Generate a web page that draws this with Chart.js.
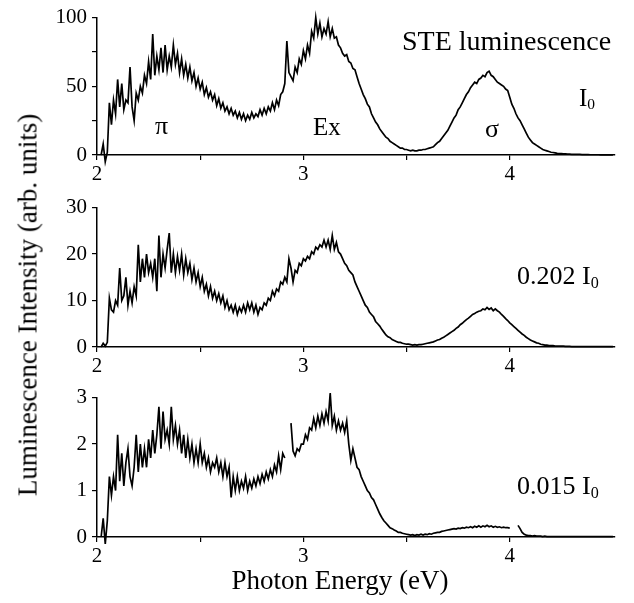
<!DOCTYPE html>
<html>
<head>
<meta charset="utf-8">
<script src="https://cdn.jsdelivr.net/npm/chart.js@4/dist/chart.umd.min.js"></script>
<style>
  body { margin: 0; background: #fff; }
  #wrap { position: relative; width: 634px; height: 603px; font-family: 'Liberation Serif', 'Times New Roman', serif; color: #000; }
  canvas { position: absolute; left: 0; }
  .lbl { position: absolute; white-space: nowrap; line-height: 1; }
  .sub { font-size: 62%; position: relative; top: 0.22em; }
</style>
</head>
<body>
<div id="wrap">
  <canvas id="c1" style="top:0px"></canvas>
  <canvas id="c2" style="top:190px"></canvas>
  <canvas id="c3" style="top:380px"></canvas>

  <div class="lbl" style="left:28px;top:305px;font-size:27px;transform:translate(-50%,-50%) rotate(-90deg);">Luminescence Intensity (arb. units)</div>
  <div class="lbl" style="left:340px;top:567px;font-size:27px;transform:translateX(-50%);">Photon Energy (eV)</div>

  <div class="lbl" style="left:402px;top:27px;font-size:28px;">STE luminescence</div>
  <div class="lbl" style="left:579px;top:85px;font-size:25px;">I<span class="sub">0</span></div>
  <div class="lbl" style="left:155px;top:113px;font-size:26px;">π</div>
  <div class="lbl" style="left:313px;top:114px;font-size:25px;">Ex</div>
  <div class="lbl" style="left:485px;top:116px;font-size:26px;">σ</div>
  <div class="lbl" style="left:517px;top:263px;font-size:26px;">0.202 I<span class="sub">0</span></div>
  <div class="lbl" style="left:517px;top:473px;font-size:26px;">0.015 I<span class="sub">0</span></div>
</div>

<script>
// sampling grid of the spectra (eV)
const E_START = 2.0;
const E_STEP = 0.01;

// x axis ticks (eV), labelled only on whole numbers
const xTicks = [2, 2.5, 3, 3.5, 4];

// full intensity I0
const spectrumI0 = [
  null, null, 0, 8, -5, 2, 38, 22, 40, 30,
  55, 35, 52, 33, 40, 38, 64, 35, 25, 45,
  40, 50, 45, 58, 52, 68, 55, 88, 58, 72,
  62, 78, 60, 80, 62, 72, 64, 80, 66, 74,
  60, 70, 58, 66, 56, 64, 54, 60, 50, 56,
  48, 53, 44, 49, 42, 46, 40, 44, 36, 41,
  34, 38, 32, 35, 30, 34, 29, 32, 27, 31,
  26, 30, 25, 29, 26, 31, 27, 30, 28, 33,
  29, 34, 30, 35, 32, 38, 33, 40, 36, 44,
  46, 52, 83, 60, 57, 54, 64, 60, 70, 66,
  76, 70, 80, 74, 90, 85, 100, 88, 96, 86,
  92, 88, 97, 86, 92, 85, 86, 80, 78, 74,
  72, 73, 68, 67, 63, 62, 57, 52, 48, 44,
  41, 37, 35, 30, 27, 24, 22, 19, 17, 15,
  13, 12, 10, 9, 8, 7, 6, 5, 5, 4,
  4, 3.5, 3, 3.5, 3, 3, 3.5, 3.5, 4, 4,
  4.5, 5, 5.5, 6, 7.5, 9, 10, 12, 14, 16,
  18, 21, 24, 27, 29, 33, 35, 38, 41, 44,
  46, 49, 51, 53, 52, 55, 56, 58, 57, 60,
  61, 58, 57, 55, 53, 52, 51, 50, 48, 47,
  42, 37, 34, 30, 27, 25, 22, 19, 16, 13,
  11, 9, 8, 7, 6, 5, 4, 3.5, 3, 2.5,
  2, 1.8, 1.5, 1.2, 1, 1, 0.8, 0.8, 0.6, 0.6,
  0.5, 0.5, 0.4, 0.4, 0.4, 0.3, 0.3, 0.3, 0.3, 0.2,
  0.2, 0.2, 0.2, 0.2, 0.1, 0.1, 0.1, 0.1, 0.1, 0.1,
  0.1
];

// 0.202 I0
const spectrum202 = [
  null, null, 0, 0.8, 0.2, 1, 10.5, 8, 7.5, 10,
  9, 17, 10, 11, 15, 9, 12, 9.5, 13, 11,
  22, 14, 19, 15, 20, 16, 18, 15, 19, 12,
  24, 15, 20, 17, 21, 24.5, 16, 20, 16, 19.5,
  16.5, 20, 15.5, 19, 16, 18, 14.5, 17, 14, 16,
  13, 15, 12, 13.5, 11, 13, 10.5, 12, 10, 11.5,
  9.5, 11, 8.5, 10, 8, 9, 7.5, 9, 7, 8.5,
  7.5, 9, 7.5, 9.5, 8, 9.5, 7.5, 9, 7, 8.5,
  8, 9.5, 9, 10.5, 10, 12, 11, 12.5, 12, 14,
  13.5, 15, 14, 19, 17, 14, 16.5, 16, 18, 17.5,
  19, 18.5, 19.5, 19, 20.5, 20, 21.5, 21, 22, 21.5,
  23, 21.5, 23, 21, 24, 21, 22.5, 20.5, 20, 19,
  18, 17.5, 16.5, 16, 15.5, 14, 13, 12, 11, 10,
  9, 8.5, 7.5, 7, 6.5, 5.5, 5, 4.5, 3.8, 3.2,
  2.6, 2.2, 2, 1.6, 1.4, 1.2, 1, 1, 0.8, 0.7,
  0.6, 0.6, 0.5, 0.4, 0.5, 0.4, 0.5, 0.5, 0.6, 0.7,
  0.8, 0.9, 1, 1.1, 1.3, 1.5, 1.6, 1.9, 2.1, 2.4,
  2.7, 3, 3.3, 3.6, 4, 4.3, 4.8, 5.1, 5.5, 5.9,
  6.2, 6.6, 7, 7.2, 7.5, 7.7, 7.8, 8.2, 8, 8.5,
  8.1, 8.4, 7.8, 8.2, 7.8, 7.5, 7, 6.6, 6.1, 5.7,
  5.2, 4.8, 4.4, 4, 3.6, 3.2, 2.8, 2.5, 2.1, 1.8,
  1.5, 1.3, 1.1, 0.9, 0.8, 0.6, 0.5, 0.4, 0.4, 0.3,
  0.3, 0.3, 0.2, 0.2, 0.2, 0.2, 0.2, 0.15, 0.15, 0.15,
  0.1, 0.1, 0.1, 0.1, 0.1, 0.1, 0.1, 0.1, 0.1, 0.1,
  0.1, 0.1, 0.1, 0.1, 0.1, 0.1, 0.1, 0.1, 0.1, 0.1,
  0.1
];

// 0.015 I0 (the trace has two breaks)
const spectrum015 = [
  null, null, 0, 0.4, -0.15, 0.35, 1.3, 0.9, 1.3, 1,
  2.2, 1.2, 1.8, 1.1, 1.6, 1.9, 1.3, 1.1, 1.5, 2.2,
  1.4, 2.0, 1.5, 1.9, 1.5, 2.1, 1.7, 2.3, 1.8, 2.2,
  2.8, 1.9, 2.7, 2.1, 2.3, 2.0, 2.8, 2.1, 2.4, 2.0,
  2.3, 1.8, 2.2, 1.7, 2.1, 1.7, 2.0, 1.6, 1.9, 1.6,
  2.0, 1.6, 1.8, 1.5, 1.7, 1.4, 1.6, 1.5, 1.7, 1.4,
  1.6, 1.3, 1.6, 1.3, 1.5, 0.85, 1.3, 1.0, 1.3, 1.0,
  1.2, 1.05, 1.3, 1.0, 1.2, 1.05, 1.25, 1.1, 1.3, 1.15,
  1.35, 1.2, 1.4, 1.25, 1.45, 1.3, 1.55, 1.4, 1.75, 1.45,
  1.8, 1.7, null, null, 2.45, 1.85, 1.75, 1.9, 1.85, 2.0,
  2.0, 2.2, 2.1, 2.35, 2.3, 2.55, 2.35, 2.6, 2.4, 2.65,
  2.45, 2.7, 2.5, 3.1, 2.4, 2.6, 2.3, 2.5, 2.3, 2.45,
  2.25, 2.5, 2.0, 1.65, 1.9, 1.7, 1.5, 1.45, 1.3, 1.2,
  1.1, 1.0, 0.95, 0.85, 0.8, 0.7, 0.6, 0.5, 0.42, 0.35,
  0.3, 0.25, 0.2, 0.18, 0.15, 0.13, 0.1, 0.1, 0.08, 0.07,
  0.06, 0.05, 0.04, 0.05, 0.03, 0.05, 0.04, 0.06, 0.04, 0.06,
  0.05, 0.07, 0.06, 0.08, 0.09, 0.1, 0.1, 0.12, 0.13, 0.14,
  0.15, 0.16, 0.17, 0.18, 0.17, 0.19, 0.18, 0.2, 0.19, 0.21,
  0.2, 0.22, 0.2, 0.23, 0.21, 0.24, 0.21, 0.24, 0.22, 0.25,
  0.22, 0.24, 0.21, 0.23, 0.21, 0.22, 0.2, 0.21, 0.2, 0.2,
  0.19, null, null, null, 0.25, 0.18, 0.1, 0.06, 0.04, 0.03,
  0.03, 0.02, 0.03, 0.02, 0.02, 0.02, 0.01, 0.02, 0.01, 0.01,
  0.01, 0.01, 0.01, 0.01, 0.01, 0.01, 0.01, 0.01, 0.01, 0.01,
  0.01, 0.01, 0.01, 0.01, 0.01, 0.01, 0.01, 0.01, 0.01, 0.01,
  0.01, 0.01, 0.01, 0.01, 0.01, 0.01, 0.01, 0.01, 0.01, 0.01,
  0.01
];

const FONT = 'Liberation Serif';

function toPoints(vals) {
  return vals.map(function (v, i) {
    return { x: +(E_START + i * E_STEP).toFixed(2), y: v };
  });
}

function near(v, step) {
  return Math.abs(v / step - Math.round(v / step)) < 1e-6;
}

function makePanel(id, vals, yMax, yMinor, yMajor, areaHeight) {
  var cv = document.getElementById(id);
  cv.width = 634;
  cv.height = 15 + areaHeight + 35;
  cv.style.width = '634px';
  cv.style.height = cv.height + 'px';

  var axisLine = { color: '#000', width: 1.5 };
  var grid = { drawOnChartArea: false, drawTicks: true, tickLength: 5, color: '#000', lineWidth: 1.2 };

  return new Chart(cv, {
    type: 'line',
    data: {
      datasets: [{
        data: toPoints(vals),
        borderColor: '#000',
        borderWidth: 1.7,
        pointRadius: 0,
        tension: 0,
        fill: false,
        spanGaps: false,
        clip: false
      }]
    },
    options: {
      responsive: false,
      animation: false,
      events: [],
      layout: { padding: { top: 15, right: 19, bottom: 0, left: 0 } },
      plugins: { legend: { display: false }, tooltip: { enabled: false } },
      scales: {
        x: {
          type: 'linear',
          min: 2,
          max: 4.51,
          border: axisLine,
          grid: grid,
          afterBuildTicks: function (s) { s.ticks = xTicks.map(function (v) { return { value: v }; }); },
          afterFit: function (s) { s.height = 35; },
          ticks: {
            color: '#000',
            padding: 2,
            maxRotation: 0,
            font: { family: FONT, size: 21 },
            callback: function (v) { return near(v, 1) ? String(v) : ''; }
          }
        },
        y: {
          min: 0,
          max: yMax,
          border: axisLine,
          grid: grid,
          afterFit: function (s) { s.width = 97; },
          ticks: {
            color: '#000',
            padding: 5,
            stepSize: yMinor,
            font: { family: FONT, size: 21 },
            callback: function (v) { return near(v, yMajor) ? String(Math.round(v)) : ''; }
          }
        }
      }
    }
  });
}

makePanel('c1', spectrumI0, 100, 25, 50, 140);
makePanel('c2', spectrum202, 30, 5, 10, 142);
makePanel('c3', spectrum015, 3, 0.5, 1, 142);
</script>
</body>
</html>
